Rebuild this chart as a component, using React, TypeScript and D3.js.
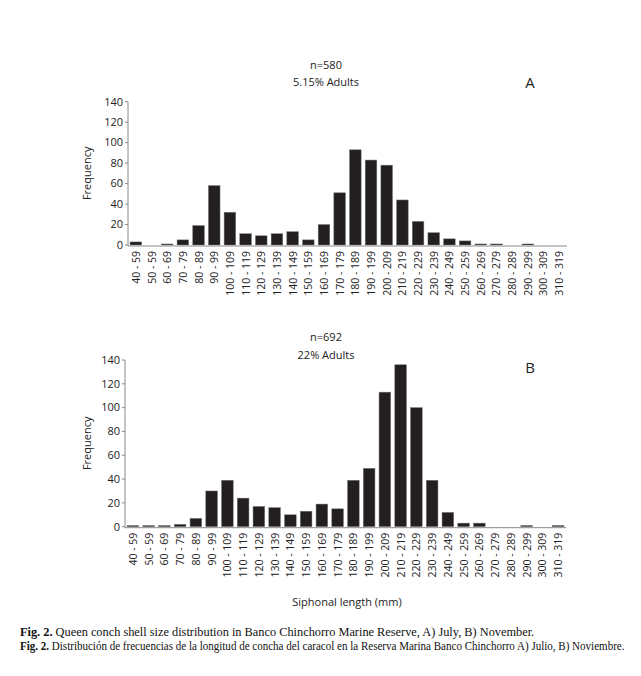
import React, { useLayoutEffect, useRef, useState } from "react";
import * as d3 from "d3";

const categories = [
  "40 - 59", "50 - 59", "60 - 69", "70 - 79", "80 - 89", "90 - 99",
  "100 - 109", "110 - 119", "120 - 129", "130 - 139", "140 - 149", "150 - 159",
  "160 - 169", "170 - 179", "180 - 189", "190 - 199", "200 - 209", "210 - 219",
  "220 - 229", "230 - 239", "240 - 249", "250 - 259", "260 - 269", "270 - 279",
  "280 - 289", "290 - 299", "300 - 309", "310 - 319",
];
const julyValues = [3, 0, 1, 5, 19, 58, 32, 11, 9, 11, 13, 5, 20, 51, 93, 83, 78, 44, 23, 12, 6, 4, 1, 1, 0, 1, 0, 0];
const novemberValues = [1, 1, 1, 2, 7, 30, 39, 24, 17, 16, 10, 13, 19, 15, 39, 49, 113, 136, 100, 39, 12, 3, 3, 0, 0, 1, 0, 1];
const yTicks = [0, 20, 40, 60, 80, 100, 120, 140];
const panelA = { n: "n=580", adults: "5.15% Adults", letter: "A" };
const panelB = { n: "n=692", adults: "22% Adults", letter: "B" };
const xTitle = "Siphonal length (mm)";
const yTitle = "Frequency";
const caption1Bold = "Fig. 2.";
const caption1 = " Queen conch shell size distribution in Banco Chinchorro Marine Reserve, A) July, B) November.";
const caption2Bold = "Fig. 2.";
const caption2 = " Distribución de frecuencias de la longitud de concha del caracol en la Reserva Marina Banco Chinchorro A) Julio, B) Noviembre.";

const FONT = "'Open Sans', 'Noto Sans', sans-serif";
const SERIF = "'Liberation Serif', serif";
const AXIS = "#8a8a8a";
const BAR = "#231f20";

type PanelProps = {
  values: number[];
  x0: number; x1: number; yTop: number; yBase: number;
  info: { n: string; adults: string; letter: string };
  nY: number; adultsY: number; letterY: number;
};

function Panel({ values, x0, x1, yTop, yBase, info, nY, adultsY, letterY }: PanelProps) {
  const x = d3.scaleBand<string>().domain(categories).range([x0, x1]).paddingInner(0.26).paddingOuter(0.13);
  const y = d3.scaleLinear().domain([0, 140]).range([yBase, yTop]);
  return (
    <g>
      <text x={326} y={nY} textAnchor="middle" fontSize={11} fontFamily={FONT} fill="#222">{info.n}</text>
      <text x={326} y={adultsY} textAnchor="middle" fontSize={11} fontFamily={FONT} fill="#222">{info.adults}</text>
      <text x={530} y={letterY} textAnchor="middle" fontSize={15} fontFamily={FONT} fill="#222">{info.letter}</text>
      {values.map((v, i) => (
        v > 0 ? (
          <rect key={i} x={x(categories[i])} y={y(v)} width={x.bandwidth()} height={yBase - y(v)}
            fill={BAR} stroke="#777" strokeWidth={0.5} />
        ) : null
      ))}
      <line x1={x0} x2={x0} y1={y(140)} y2={yBase + 1} stroke={AXIS} strokeWidth={1} />
      <line x1={x0} x2={x1} y1={yBase + 1} y2={yBase + 1} stroke={AXIS} strokeWidth={1} />
      {yTicks.map((t) => (
        <g key={t}>
          <line x1={x0 - 3} x2={x0} y1={y(t)} y2={y(t)} stroke={AXIS} />
          <text x={x0 - 5} y={y(t)} dy="0.35em" textAnchor="end" fontSize={11} fontFamily={FONT} fill="#222">{t}</text>
        </g>
      ))}
      {categories.map((c) => {
        const cx = (x(c) as number) + x.bandwidth() / 2;
        return (
          <text key={c} transform={`translate(${cx + 4},${yBase + 6}) rotate(-90)`} textAnchor="end"
            fontSize={10.5} fontFamily={FONT} fill="#222">{c}</text>
        );
      })}
      <text transform={`translate(91,${(yTop + yBase) / 2}) rotate(-90)`} textAnchor="middle"
        fontSize={11} fontFamily={FONT} fill="#222">{yTitle}</text>
    </g>
  );
}

function FitText({ x, y, width, bold, rest }: { x: number; y: number; width: number; bold: string; rest: string }) {
  const ref = useRef<SVGTextElement>(null);
  const [sx, setSx] = useState(1);
  useLayoutEffect(() => {
    if (ref.current) {
      const w = ref.current.getComputedTextLength();
      if (w > 0) setSx(width / w);
    }
  }, [width, bold, rest]);
  return (
    <text ref={ref} transform={`translate(${x},${y}) scale(${sx},1)`} fontSize={12} fontFamily={SERIF} fill="#111">
      <tspan fontWeight="bold">{bold}</tspan>{rest}
    </text>
  );
}

export default function App() {
  return (
    <svg width={641} height={676} style={{ position: "absolute", left: 0, top: 0, background: "#fff" }}>
      <rect x={0} y={0} width={641} height={676} fill="#fff" />
      <Panel values={julyValues} x0={128} x1={567} yTop={101.7} yBase={245} info={panelA}
        nY={69} adultsY={86} letterY={88} />
      <Panel values={novemberValues} x0={125} x1={566} yTop={360} yBase={526.7} info={panelB}
        nY={341} adultsY={359} letterY={373} />
      <text x={347} y={606} textAnchor="middle" fontSize={11} fontFamily={FONT} fill="#222">{xTitle}</text>
      <FitText x={20} y={636} width={515} bold={caption1Bold} rest={caption1} />
      <FitText x={20} y={650} width={605} bold={caption2Bold} rest={caption2} />
    </svg>
  );
}
